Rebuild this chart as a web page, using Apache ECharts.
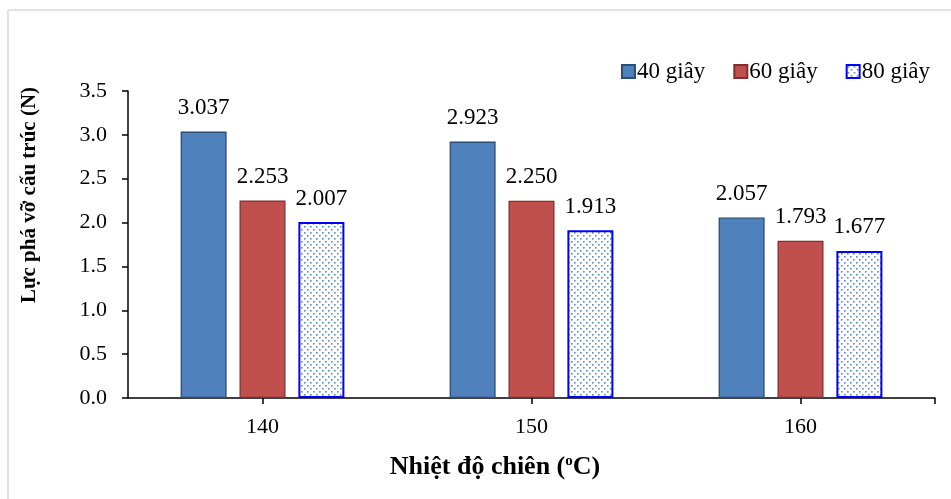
<!DOCTYPE html>
<html>
<head>
<meta charset="utf-8">
<script src="https://cdn.jsdelivr.net/npm/echarts@6/dist/echarts.min.js"></script>
<style>
  html, body { margin: 0; padding: 0; background: #ffffff; }
  #chart { width: 951px; height: 499px; }
</style>
</head>
<body>
<div id="chart"></div>
<script>
// Frying temperature categories (°C)
const categories = ['140', '150', '160'];
// Structural breaking force (N) per frying time
const seriesNames = ['40 giây', '60 giây', '80 giây'];
const values40 = [3.037, 2.923, 2.057];
const values60 = [2.253, 2.250, 1.793];
const values80 = [2.007, 1.913, 1.677];
// Value-axis ticks
const yTicks = [0.0, 0.5, 1.0, 1.5, 2.0, 2.5, 3.0, 3.5];

const FONT = '"Liberation Serif", "Times New Roman", serif';

// Dotted fill used for the 80 s bars
function makeDotPattern() {
  const c = document.createElement('canvas');
  c.width = 6; c.height = 6;
  const ctx = c.getContext('2d');
  ctx.fillStyle = '#ffffff';
  ctx.fillRect(0, 0, 6, 6);
  ctx.fillStyle = '#5b8ac6';
  ctx.fillRect(1, 1, 1.6, 1.6);
  ctx.fillRect(4, 4, 1.6, 1.6);
  return c;
}

const chart = echarts.init(document.getElementById('chart'), null, { renderer: 'canvas' });

const GRID = { left: 128, right: 16, top: 91, bottom: 101 };

const labelCfg = {
  show: true,
  position: 'top',
  distance: 12,
  color: '#000000',
  fontFamily: FONT,
  fontSize: 23,
  formatter: p => p.value.toFixed(3)
};

const option = {
  animation: false,
  backgroundColor: '#ffffff',
  legend: {
    data: seriesNames,
    right: 16,
    top: 55,
    icon: 'rect',
    itemWidth: 13,
    itemHeight: 13,
    itemGap: 28,
    textStyle: { fontFamily: FONT, fontSize: 23, color: '#000000', padding: [0, 0, 0, -3] }
  },
  grid: { left: GRID.left, right: GRID.right, top: GRID.top, bottom: GRID.bottom, containLabel: false },
  xAxis: {
    type: 'category',
    data: categories,
    axisLine: { show: true, lineStyle: { color: '#000000', width: 1.5 } },
    axisTick: { show: true, alignWithLabel: true, length: 6, lineStyle: { color: '#000000', width: 1.5 } },
    axisLabel: { fontFamily: FONT, fontSize: 22, color: '#000000', margin: 18 }
  },
  yAxis: {
    type: 'value',
    min: yTicks[0],
    max: yTicks[yTicks.length - 1],
    interval: 0.5,
    splitLine: { show: false },
    axisLine: { show: true, lineStyle: { color: '#000000', width: 1.5 } },
    axisTick: { show: true, inside: false, length: 6, lineStyle: { color: '#000000', width: 1.5 } },
    axisLabel: {
      fontFamily: FONT, fontSize: 22, color: '#000000', margin: 21,
      formatter: v => v.toFixed(1)
    }
  },
  series: [
    {
      name: seriesNames[0], type: 'bar', data: values40,
      barWidth: 46, barGap: '28%',
      itemStyle: { color: '#4f81bd', borderColor: '#2c4d75', borderWidth: 1.3 },
      label: labelCfg
    },
    {
      name: seriesNames[1], type: 'bar', data: values60,
      barWidth: 46, barGap: '28%',
      itemStyle: { color: '#c0504d', borderColor: '#7f2f2d', borderWidth: 1.3 },
      label: labelCfg
    },
    {
      name: seriesNames[2], type: 'bar', data: values80,
      barWidth: 46, barGap: '28%',
      itemStyle: {
        color: { image: makeDotPattern(), repeat: 'repeat' },
        borderColor: '#0000ff', borderWidth: 2
      },
      label: labelCfg
    }
  ],
  graphic: [
    // outer chart-area frame
    { type: 'line', shape: { x1: 8, y1: 10, x2: 951, y2: 10 }, style: { stroke: '#d9d9d9', lineWidth: 1.5 } },
    { type: 'line', shape: { x1: 8, y1: 10, x2: 8, y2: 499 }, style: { stroke: '#d9d9d9', lineWidth: 1.5 } },
    // closing tick at the right end of the category axis
    { type: 'line', shape: { x1: 951 - GRID.right, y1: 499 - GRID.bottom, x2: 951 - GRID.right, y2: 499 - GRID.bottom + 6 },
      style: { stroke: '#000000', lineWidth: 1.5 } },
    // axis titles
    {
      type: 'text', x: 495, y: 467,
      style: {
        text: '{a|Nhiệt độ chiên (}{s|o}{a|C)}',
        align: 'center', verticalAlign: 'middle',
        rich: {
          a: { fontFamily: FONT, fontSize: 26, fontWeight: 'bold', fill: '#000000' },
          s: { fontFamily: FONT, fontSize: 15, fontWeight: 'bold', fill: '#000000', verticalAlign: 'top', padding: [0, 0, 9, 0] }
        }
      }
    },
    {
      type: 'text', x: 30, y: 195, rotation: Math.PI / 2,
      style: {
        text: 'Lực phá vỡ cấu trúc (N)',
        align: 'center', verticalAlign: 'middle',
        fontFamily: FONT, fontSize: 21, fontWeight: 'bold', fill: '#000000'
      }
    }
  ]
};

chart.setOption(option);
</script>
</body>
</html>
